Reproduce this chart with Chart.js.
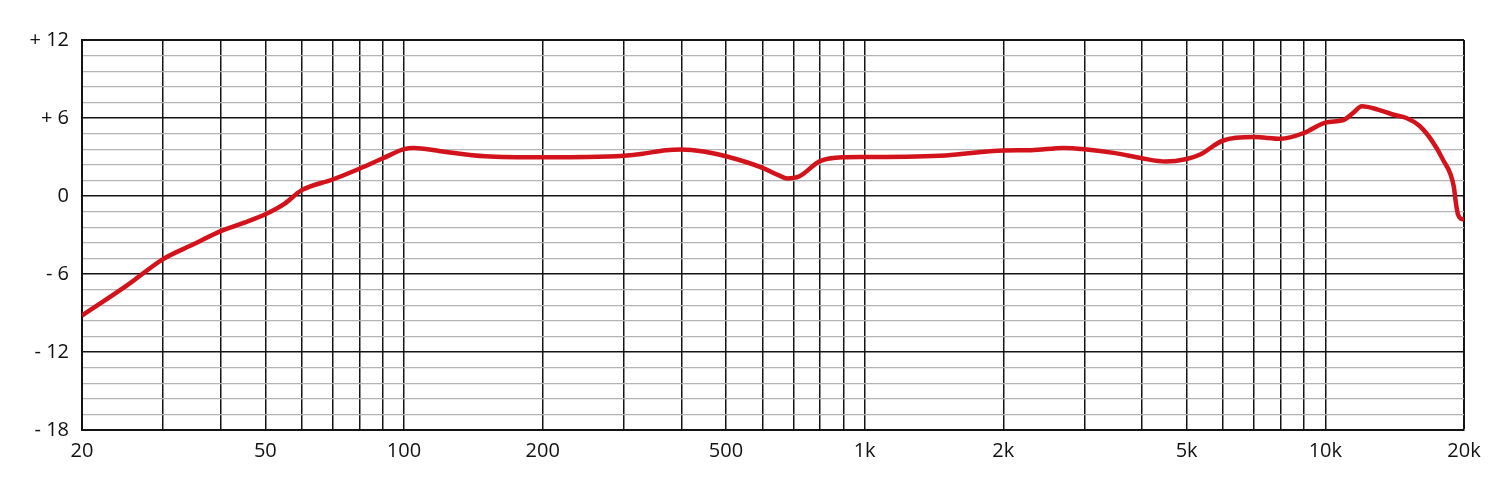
<!DOCTYPE html>
<html>
<head>
<meta charset="utf-8">
<style>
  html, body { margin: 0; padding: 0; background: #ffffff; }
  #wrap { width: 1509px; height: 490px; }
</style>
<script src="https://cdn.jsdelivr.net/npm/chart.js@4"></script>
</head>
<body>
<div id="wrap"><canvas id="response"></canvas></div>
<script>
// frequency response
const freqs = [20, 25, 30, 35, 40, 45, 50, 55, 60, 70, 80, 90, 100, 105, 120, 150, 200, 250, 300, 330, 370, 400, 450, 500, 600, 650, 680, 720, 800, 900,
  1000, 1500, 2000, 2300, 2700, 3000, 3500, 4000, 4500, 5000, 5350, 6000, 7000, 8000, 9000, 10000, 11000, 11500, 12000, 13000, 14000, 15000,
  16000, 17000, 18000, 19000, 19200, 19400, 19700, 20000];
const gains = [-9.2, -6.9, -4.85, -3.7, -2.7, -2.05, -1.4, -0.6, 0.45, 1.27, 2.1, 2.9, 3.6, 3.7, 3.45, 3.06, 2.98, 3.0, 3.1, 3.25, 3.52, 3.58, 3.4, 3.06, 2.17, 1.6, 1.35, 1.5, 2.68, 2.98,
  3.0, 3.12, 3.5, 3.52, 3.7, 3.6, 3.3, 2.9, 2.65, 2.85, 3.19, 4.27, 4.53, 4.4, 4.86, 5.65, 5.88, 6.4, 6.9, 6.65, 6.27, 6.0,
  5.4, 4.3, 2.8, 0.75, -0.5, -1.4, -1.75, -1.8];

const xGrid = [20, 30, 40, 50, 60, 70, 80, 90, 100, 200, 300, 400, 500, 600, 700, 800, 900,
  1000, 2000, 3000, 4000, 5000, 6000, 7000, 8000, 9000, 10000, 20000];
const xLabelAt = [20, 50, 100, 200, 500, 1000, 2000, 5000, 10000, 20000];
const xLabelText = ['20', '50', '100', '200', '500', '1k', '2k', '5k', '10k', '20k'];

const yMajor = [-18, -12, -6, 0, 6, 12];
const yLabelText = ['- 18', '- 12', '- 6', '0', '+ 6', '+ 12'];
const yMinorPerMajor = 5;

const yGrid = [];
for (let i = 0; i <= (yMajor.length - 1) * yMinorPerMajor; i++) {
    yGrid.push(-18 + i * 6 / yMinorPerMajor);
}

Chart.defaults.font.family = '"Open Sans", "DejaVu Sans", sans-serif';
Chart.defaults.font.size = 20;
Chart.defaults.color = '#111111';

new Chart(document.getElementById('response'), {
    type: 'line',
    data: {
        datasets: [{
            data: freqs.map((f, i) => ({ x: f, y: gains[i] })),
            borderColor: '#d3131b',
            borderWidth: 4.5,
            pointRadius: 0,
            fill: false,
            cubicInterpolationMode: 'monotone'
        }]
    },
    options: {
        responsive: true,
        maintainAspectRatio: false,
        animation: false,
        layout: { padding: { top: 40, right: 45, left: 0, bottom: 0 } },
        plugins: {
            legend: { display: false },
            tooltip: { enabled: false }
        },
        scales: {
            x: {
                type: 'logarithmic',
                min: 20,
                max: 20000,
                afterBuildTicks: (scale) => {
                    scale.ticks = xGrid.map(v => ({ value: v }));
                },
                afterFit: (scale) => { scale.height = 60; },
                grid: {
                    color: '#141414',
                    lineWidth: (ctx) => (ctx.index === xGrid.length - 1 ? 2 : 1.5),
                    drawTicks: false
                },
                border: { display: true, color: '#141414', width: 2 },
                ticks: {
                    autoSkip: false,
                    maxRotation: 0,
                    padding: 9,
                    callback: (value) => {
                        const k = xLabelAt.indexOf(value);
                        return k >= 0 ? xLabelText[k] : '';
                    }
                }
            },
            y: {
                min: -18,
                max: 12,
                z: -1,
                afterBuildTicks: (scale) => {
                    scale.ticks = yGrid.map(v => ({ value: v }));
                },
                afterFit: (scale) => { scale.width = 82; },
                grid: {
                    color: (ctx) => (ctx.index % yMinorPerMajor === 0 ? '#141414' : '#b4b4b4'),
                    lineWidth: (ctx) => (ctx.index % yMinorPerMajor === 0 ? (ctx.index === yGrid.length - 1 ? 2 : 1.6) : 1.3),
                    drawTicks: false
                },
                border: { display: true, color: '#141414', width: 2 },
                ticks: {
                    autoSkip: false,
                    padding: 13,
                    callback: (value, index) => {
                        if (index % yMinorPerMajor !== 0) return '';
                        return yLabelText[index / yMinorPerMajor];
                    }
                }
            }
        }
    }
});
</script>
</body>
</html>
